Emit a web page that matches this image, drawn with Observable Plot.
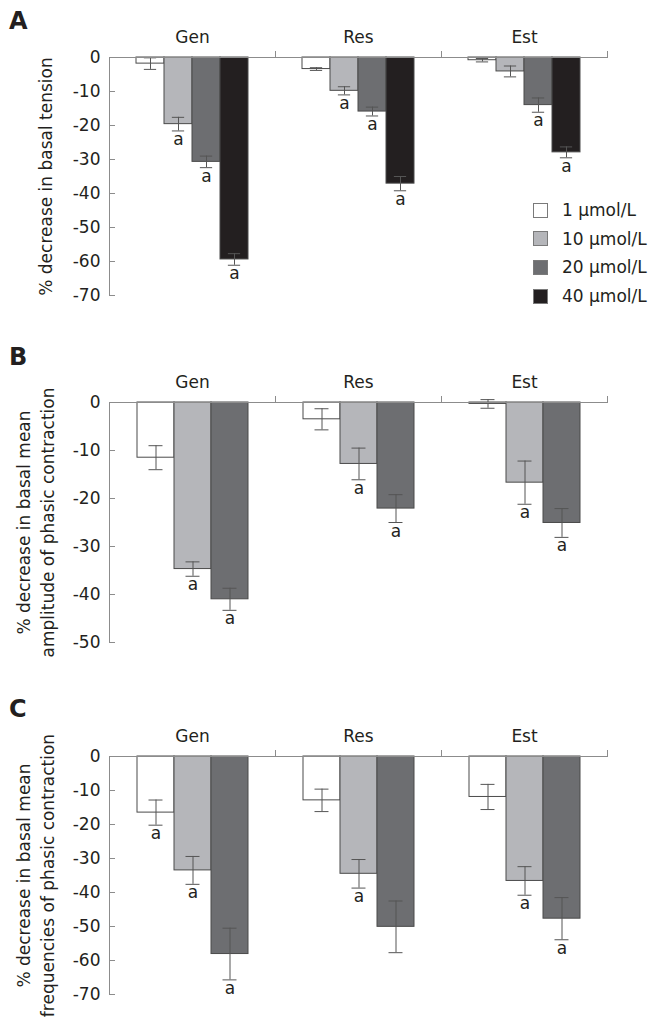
<!DOCTYPE html>
<html><head><meta charset="utf-8">
<script src="https://cdn.jsdelivr.net/npm/d3@7"></script>
<script src="https://cdn.jsdelivr.net/npm/@observablehq/plot@0.6"></script>
<style>
body{margin:0;background:#fff;font-family:"DejaVu Sans",sans-serif;color:#231f20}
#root{position:relative;width:658px;height:1024px;overflow:hidden}
.panel{position:absolute;left:0}
.panel svg{display:block}
.letter{position:absolute;left:9px;font-weight:bold;font-size:24px;line-height:24px}
.legend{position:absolute;left:533px;top:196px;font-size:17px}
.legend .row{display:flex;align-items:center;height:28.6px}
.legend .sw{width:13px;height:13px;border:1px solid #7a7a7a;margin-right:14px}
</style></head><body>
<div id="root"></div>
<script>
const groups = ["Gen", "Res", "Est"];
const concentrations = ["1 μmol/L", "10 μmol/L", "20 μmol/L", "40 μmol/L"];
const barColors = ["#ffffff", "#b5b6ba", "#6d6e71", "#231f20"];
const panelLetters = ["A", "B", "C"];

// Panel A: % decrease in basal tension (rows: Gen, Res, Est)
const tensionMean = [[-1.8, -19.6, -30.7, -59.4], [-3.4, -9.8, -15.9, -37.1], [-0.8, -4.1, -14.0, -27.9]];
const tensionErr = [[1.7, 2.0, 1.7, 1.7], [0.4, 1.2, 1.3, 2.1], [0.5, 1.6, 2.1, 1.6]];
const tensionSig = [[0, 1, 1, 1], [0, 1, 1, 1], [0, 0, 1, 1]];
const tensionTicks = [0, -10, -20, -30, -40, -50, -60, -70];

// Panel B: amplitude of phasic contraction
const amplitudeMean = [[-11.5, -34.7, -41.0], [-3.5, -12.8, -22.1], [-0.3, -16.7, -25.1]];
const amplitudeErr = [[2.5, 1.5, 2.3], [2.2, 3.3, 2.9], [0.9, 4.5, 3.0]];
const amplitudeSig = [[0, 1, 1], [0, 1, 1], [0, 1, 1]];
const amplitudeTicks = [0, -10, -20, -30, -40, -50];

// Panel C: frequencies of phasic contraction
const frequencyMean = [[-16.5, -33.5, -58.1], [-12.9, -34.5, -50.1], [-11.9, -36.6, -47.7]];
const frequencyErr = [[3.7, 4.1, 7.6], [3.3, 4.2, 7.6], [3.7, 4.2, 6.2]];
const frequencySig = [[1, 1, 1], [0, 1, 0], [0, 1, 1]];
const frequencyTicks = [0, -10, -20, -30, -40, -50, -60, -70];

const titleA = "% decrease in basal tension";
const titleB = "% decrease in basal mean\namplitude of phasic contraction";
const titleC = "% decrease in basal mean\nfrequencies of phasic contraction";

const W = 658, ML = 109, MR = 51;
const axisColor = "#8c8c8c";
const errColor = "#555555";

function panel(cfg) {
  const data = [];
  groups.forEach((g, gi) => cfg.mean[gi].forEach((v, ci) => data.push({
    group: g, conc: concentrations[ci], value: v, err: cfg.err[gi][ci], sig: cfg.sig[gi][ci]
  })));
  const concs = concentrations.slice(0, cfg.mean[0].length);
  const facetW = (W - ML - MR) / groups.length;
  const band = facetW / (concs.length + 2 * cfg.paddingOuter);
  const capInset = (band - cfg.cap) / 2;
  return Plot.plot({
    width: W, height: cfg.height,
    marginLeft: ML, marginRight: MR, marginTop: cfg.marginTop, marginBottom: cfg.marginBottom,
    style: {fontFamily: "DejaVu Sans", fontSize: "17px", color: "#231f20", background: "transparent", overflow: "visible"},
    fx: {domain: groups, padding: 0, axis: null, label: null},
    x: {domain: concs, paddingInner: 0, paddingOuter: cfg.paddingOuter, axis: null},
    y: {domain: cfg.yDomain, axis: null},
    color: {domain: concentrations, range: barColors},
    marks: [
      Plot.barY(data, {fx: "group", x: "conc", y: "value", fill: "conc", stroke: "#4a4a4a", strokeWidth: 1}),
      Plot.ruleX(data, {fx: "group", x: "conc", y1: d => d.value - d.err, y2: d => d.value + d.err, stroke: errColor}),
      Plot.tickY(data, {fx: "group", x: "conc", y: d => d.value - d.err, stroke: errColor, inset: capInset}),
      Plot.tickY(data, {fx: "group", x: "conc", y: d => d.value + d.err, stroke: errColor, inset: capInset}),
      Plot.text(data.filter(d => d.sig), {fx: "group", x: "conc", y: d => d.value - d.err, text: () => "a", lineAnchor: "top", dy: 2, fill: "#231f20"}),
      Plot.ruleY([0], {stroke: axisColor}),
      Plot.frame({anchor: "left", facetAnchor: "left", stroke: axisColor}),
      Plot.axisY({ticks: cfg.ticks, tickSize: 6, dx: 6, tickPadding: 9, stroke: axisColor, label: null, tickFormat: d => String(d)}),
      Plot.axisFx({anchor: "top", tickSize: 0, tickPadding: 15, label: null}),
      Plot.axisFx({anchor: "top", tickSize: 7, dx: facetW / 2, tickFormat: () => "", stroke: axisColor, label: null}),
      Plot.text([cfg.title], {frameAnchor: "left", rotate: -90, dx: cfg.titleDx, textAnchor: "middle", lineHeight: 1.42, lineAnchor: "middle", facetAnchor: "left", text: d => d, fill: "#231f20"})
    ]
  });
}

const panels = [
  {top: 0, letterTop: 9, height: 320, marginTop: 57, marginBottom: 25, yDomain: [-70, 0], ticks: tensionTicks,
   mean: tensionMean, err: tensionErr, sig: tensionSig, paddingOuter: 0.887, cap: 13, title: titleA, titleDx: -65},
  {top: 320, letterTop: 345, height: 340, marginTop: 82, marginBottom: 18, yDomain: [-50, 0], ticks: amplitudeTicks,
   mean: amplitudeMean, err: amplitudeErr, sig: amplitudeSig, paddingOuter: 0.743, cap: 14, title: titleB, titleDx: -75},
  {top: 660, letterTop: 697, height: 364, marginTop: 96, marginBottom: 30, yDomain: [-70, 0], ticks: frequencyTicks,
   mean: frequencyMean, err: frequencyErr, sig: frequencySig, paddingOuter: 0.743, cap: 14, title: titleC, titleDx: -75}
];

const root = document.getElementById("root");
panels.forEach((cfg, i) => {
  const div = document.createElement("div");
  div.className = "panel";
  div.style.top = cfg.top + "px";
  div.appendChild(panel(cfg));
  root.appendChild(div);
  const letter = document.createElement("div");
  letter.className = "letter";
  letter.style.top = cfg.letterTop + "px";
  letter.textContent = panelLetters[i];
  root.appendChild(letter);
});

const legend = document.createElement("div");
legend.className = "legend";
concentrations.forEach((c, i) => {
  const row = document.createElement("div");
  row.className = "row";
  const sw = document.createElement("span");
  sw.className = "sw";
  sw.style.background = barColors[i];
  const label = document.createElement("span");
  label.textContent = c;
  row.appendChild(sw);
  row.appendChild(label);
  legend.appendChild(row);
});
root.appendChild(legend);
</script>
</body></html>
